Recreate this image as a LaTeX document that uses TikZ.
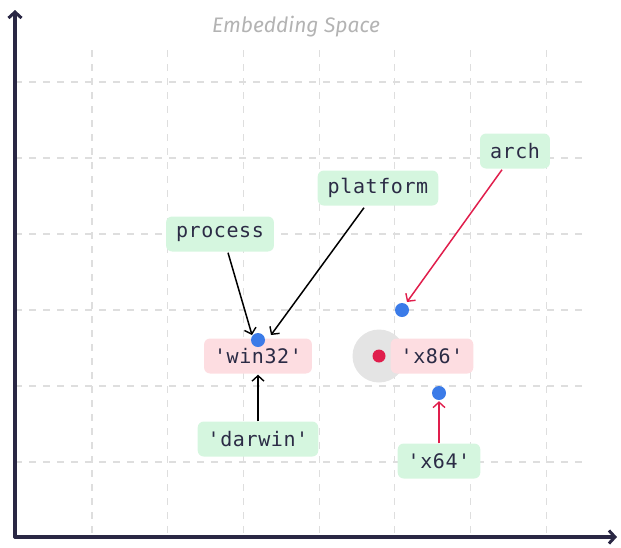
\documentclass[tikz,border=0pt]{standalone}
\usepackage{fontspec}
\usetikzlibrary{arrows.meta,calc}
\newfontfamily\labelmono[LetterSpace=3]{DejaVu Sans Mono}
\newfontfamily\titlesans{Fira Sans}

\definecolor{axisink}{HTML}{2A2744}
\definecolor{gridline}{HTML}{DEDEDE}
\definecolor{termgreen}{HTML}{D5F6DF}
\definecolor{termpink}{HTML}{FDDDE1}
\definecolor{dotblue}{HTML}{3B7BE8}
\definecolor{dotred}{HTML}{E01E4C}
\definecolor{halo}{HTML}{E4E4E4}
\definecolor{textink}{HTML}{2B2B45}
\definecolor{titlegray}{HTML}{B3B3B3}

\tikzset{
  axisline/.style={draw=axisink, line width=3.2pt, line cap=round,
    -{Straight Barb[length=6pt,width=13pt,line width=3pt]}},
  gridrule/.style={draw=gridline, line width=1.1pt, dash pattern=on 7pt off 7pt},
  term/.style={rounded corners=6pt, inner xsep=10pt, inner ysep=0pt,
    minimum height=35pt, text=textink,
    font=\labelmono\fontsize{20}{23}\selectfont},
  query/.style={term, fill=termgreen},
  hit/.style={term, fill=termpink},
  vecdot/.style={circle, inner sep=0pt, minimum size=14pt, fill=dotblue},
  pickdot/.style={circle, inner sep=0pt, minimum size=13pt, fill=dotred},
  haloring/.style={circle, inner sep=0pt, minimum size=53pt, fill=halo},
  link/.style={draw=black, line width=1.5pt,
    -{Straight Barb[length=5.5pt,width=12pt,line width=1.4pt]}},
  redlink/.style={link, draw=dotred},
}

\begin{document}
\begin{tikzpicture}[x=1pt, y=-1pt]
  \useasboundingbox (0,0) rectangle (621,547);

  % background grid
  \foreach \gx in {92,167.7,243.4,319.1,394.8,470.5,546.2}
    \draw[gridrule] (\gx,50) -- (\gx,537);
  \foreach \gy in {82,158,234,310,386,462}
    \draw[gridrule] (15,\gy) -- (583,\gy);

  % axes
  \coordinate (origin) at (15,537);
  \coordinate (ytip) at (15,10);
  \coordinate (xtip) at (617,537);
  \draw[axisline] (origin) -- (ytip);
  \draw[axisline] (origin) -- (xtip);

  % title
  \node[text=titlegray, font=\titlesans\itshape\fontsize{21}{24}\selectfont]
    (title) at (296,27) {Embedding Space};

  % highlighted neighbourhood of the chosen vector
  \node[haloring] (x86halo) at (379,356) {};

  % result terms
  \node[hit] (win32) at (258,356) {'win32'};
  \node[hit] (x86) at (432,356) {'x86'};

  % query terms
  \node[query] (process) at (220,234) {process};
  \node[query] (platform) at (378,188) {platform};
  \node[query] (arch) at (515,151) {arch};
  \node[query] (darwin) at (258,439) {'darwin'};
  \node[query] (x64) at (439,461) {'x64'};

  % embedded vectors
  \node[vecdot] (win32dot) at (258,340) {};
  \node[vecdot] (archdot) at (402,310) {};
  \node[vecdot] (x64dot) at (439,393) {};
  \node[pickdot] (x86dot) at (379,356) {};

  % links
  \draw[link] ($(process.south)+(8,1)$) -- ($(win32dot)+(-6,-5)$);
  \draw[link] ($(platform.south)+(-14,2)$) -- ($(win32dot)+(13,-5)$);
  \draw[link] (darwin.north) -- ($(win32.south)+(0,1)$);
  \draw[redlink] ($(arch.south)+(-13,1)$) -- ($(archdot)+(5,-8)$);
  \draw[redlink] (x64.north) -- ($(x64dot.south)+(0,1)$);
\end{tikzpicture}
\end{document}
